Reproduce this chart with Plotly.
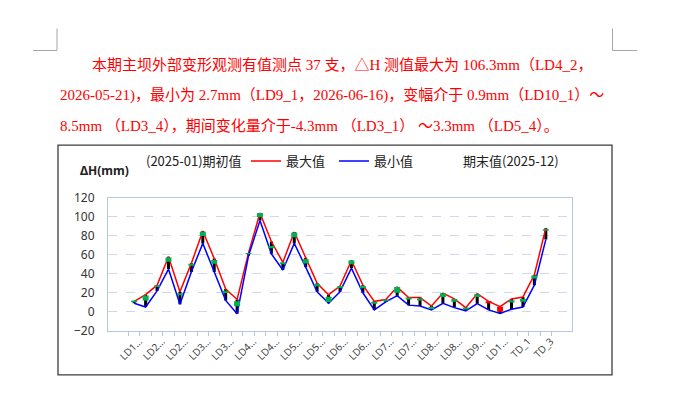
import plotly.graph_objects as go

# the page body adds an 8px margin, so the figure is drawn 8px in from the window edge
W, H = 673, 392
OFF = 8

# measuring points (37)
cats = ["LD1_1", "LD1_2",
        "LD2_1", "LD2_2", "LD2_3", "LD2_4",
        "LD3_1", "LD3_2", "LD3_3", "LD3_4",
        "LD4_1", "LD4_2", "LD4_3", "LD4_4",
        "LD5_1", "LD5_2", "LD5_3", "LD5_4",
        "LD6_1", "LD6_2", "LD6_3", "LD6_4",
        "LD7_1", "LD7_2", "LD7_3", "LD7_4",
        "LD8_1", "LD8_2", "LD8_3", "LD8_4",
        "LD9_1", "LD9_2",
        "LD10_1", "LD10_2",
        "TD_1", "TD_2", "TD_3"]

high = [11, 18, 28, 58, 21, 51, 85, 56, 24, 13, 62, 104, 74, 52, 84, 57, 30, 18, 27, 54,
        28, 11, 13, 26, 15, 15, 6, 19.7, 13.5, 4.4, 19, 11, 5.4, 13.5, 15.6, 39, 88]
low = [9, 5, 22, 45, 8, 42, 72, 42, 12, -2, 59, 96, 61, 44, 72, 47, 21, 9, 21, 46,
       20, 2, 10.5, 17, 7, 6, 2, 9, 4.4, 1, 8.5, 2, -1.7, 2.7, 5, 28, 76]
open_ = [10.0, 11.8, 26, 52.8, 17.6, 48.5, 79.8, 50.5, 19.8, 5.8, 60.5, 99.5, 66.8, 50, 78.5,
         50.8, 26.8, 10.2, 25, 50, 24.8, 8.5, 11, 20, 13, 12, 2.8, 15.6, 10.5, 2.4, 15.5,
         11, 5.4, 9.8, 10.5, 35.1, 85.2]
close = [12.0, 17.2, 28, 57.2, 19.6, 50.5, 84.2, 54.5, 22.2, 11.2, 62.0, 104.0, 69.2, 52, 83.5,
         55.2, 29.2, 15.8, 27, 54, 27.2, 10.5, 13, 26, 15, 14, 5.2, 19.6, 13.5, 4.4, 18.5,
         9, 0, 12.2, 13.5, 38.1, 86.8]

y_ticks = [-20, 0, 20, 40, 60, 80, 100, 120]

tick_text = []
for i, c in enumerate(cats):
    if i % 2:
        tick_text.append("")
    elif len(c) > 4:
        tick_text.append(c[:3] + "…")
    else:
        tick_text.append(c)


def segments(idx, a, b):
    xs, ys = [], []
    for i in idx:
        xs += [cats[i], cats[i], None]
        ys += [a[i], b[i], None]
    return xs, ys


def px(x):
    return (x - OFF) / W


def py(y):
    return 1 - (y - OFF) / H


all_idx = range(len(cats))
up_idx = [i for i in all_idx if close[i] >= open_[i]]
dn_idx = [i for i in all_idx if close[i] < open_[i]]

fig = go.Figure()

hx, hy = segments(all_idx, low, high)
fig.add_trace(go.Scatter(x=hx, y=hy, mode="lines", line=dict(color="black", width=3),
                         showlegend=False, hoverinfo="skip"))

fig.add_trace(go.Scatter(x=cats, y=high, mode="lines", name="最大值",
                         line=dict(color="#ff0000", width=1.5), legend="legend2"))
fig.add_trace(go.Scatter(x=cats, y=low, mode="lines", name="最小值",
                         line=dict(color="#0000ff", width=1.5), legend="legend3"))

ux, uy = segments(up_idx, open_, close)
fig.add_trace(go.Scatter(x=ux, y=uy, mode="lines", line=dict(color="#00b050", width=6),
                         showlegend=False, hoverinfo="skip"))
dx, dy = segments(dn_idx, open_, close)
fig.add_trace(go.Scatter(x=dx, y=dy, mode="lines", line=dict(color="#ff0000", width=6),
                         showlegend=False, hoverinfo="skip"))

# open / close series only show up as text in the legend
fig.add_trace(go.Scatter(x=cats, y=open_, mode="markers", name="(2025-01)期初值",
                         marker=dict(size=1, color="rgba(0,0,0,0)"), legend="legend"))
fig.add_trace(go.Scatter(x=cats, y=close, mode="markers", name="期末值(2025-12)",
                         marker=dict(size=1, color="rgba(0,0,0,0)"), legend="legend4"))

shapes = [
    # chart frame
    dict(type="rect", xref="paper", yref="paper", x0=px(58), x1=px(612), y0=py(382), y1=py(142),
         line=dict(color="#3c3c3c", width=1.3)),
    # page corner marks
    dict(type="line", xref="paper", yref="paper", x0=px(57), x1=px(57), y0=py(20), y1=py(43),
         line=dict(color="#a6a6a6", width=1)),
    dict(type="line", xref="paper", yref="paper", x0=px(33), x1=px(57), y0=py(43), y1=py(43),
         line=dict(color="#a6a6a6", width=1)),
    dict(type="line", xref="paper", yref="paper", x0=px(612.5), x1=px(612.5), y0=py(20), y1=py(43),
         line=dict(color="#a6a6a6", width=1)),
    dict(type="line", xref="paper", yref="paper", x0=px(612.5), x1=px(637), y0=py(43), y1=py(43),
         line=dict(color="#a6a6a6", width=1)),
]

txt_font = dict(family="Liberation Serif, Noto Sans CJK SC", size=15, color="#ff0000")
lines = [
    (90, 58, "本期主坝外部变形观测有值测点 37 支，△H 测值最大为 106.3mm（LD4_2，"),
    (58, 90, "2026-05-21)，最小为 2.7mm（LD9_1，2026-06-16)，变幅介于 0.9mm（LD10_1）～"),
    (58, 122, "8.5mm （LD3_4），期间变化量介于-4.3mm （LD3_1） ～3.3mm （LD5_4）。"),
]
annotations = [dict(x=px(x), y=py(y), xref="paper", yref="paper", text=t, showarrow=False,
                    xanchor="left", yanchor="middle", font=txt_font) for x, y, t in lines]
annotations.append(dict(x=px(104), y=py(168), xref="paper", yref="paper", text="<b>ΔH(mm)</b>",
                        showarrow=False, xanchor="center", yanchor="middle",
                        font=dict(family="Noto Sans, Noto Sans CJK SC", size=12, color="#222")))

leg_font = dict(family="Noto Sans CJK SC", size=13, color="#222")


def leg(x):
    return dict(orientation="h", x=px(x), y=py(143), xanchor="left", yanchor="top",
                font=leg_font, bgcolor="rgba(0,0,0,0)", itemwidth=30)


fig.update_layout(
    width=W, height=H,
    margin=dict(l=0, r=0, t=0, b=0),
    paper_bgcolor="white", plot_bgcolor="white",
    showlegend=True,
    legend=leg(106), legend2=leg(246), legend3=leg(334), legend4=leg(423),
    xaxis=dict(domain=[px(108), px(572)], type="category", categoryorder="array",
               categoryarray=cats, tickmode="array", tickvals=cats, ticktext=tick_text,
               tickangle=-45, tickson="boundaries", ticks="outside", ticklen=4,
               ticklabelshift=5,
               tickcolor="#b4c8de", showline=True, linecolor="#b4c8de", mirror=True,
               showgrid=False, tickfont=dict(family="Open Sans", size=10, color="#333")),
    yaxis=dict(domain=[py(336), py(197)], range=[-20, 120], tickvals=y_ticks,
               showline=True, linecolor="#b4c8de", mirror=True, zeroline=False,
               showgrid=True, gridcolor="#cdd9ea", griddash="dash", gridwidth=1,
               ticklabelstandoff=10,
               tickfont=dict(family="Noto Sans", size=12, color="#333")),
    shapes=shapes,
    annotations=annotations,
)

fig.write_html("out.html")
